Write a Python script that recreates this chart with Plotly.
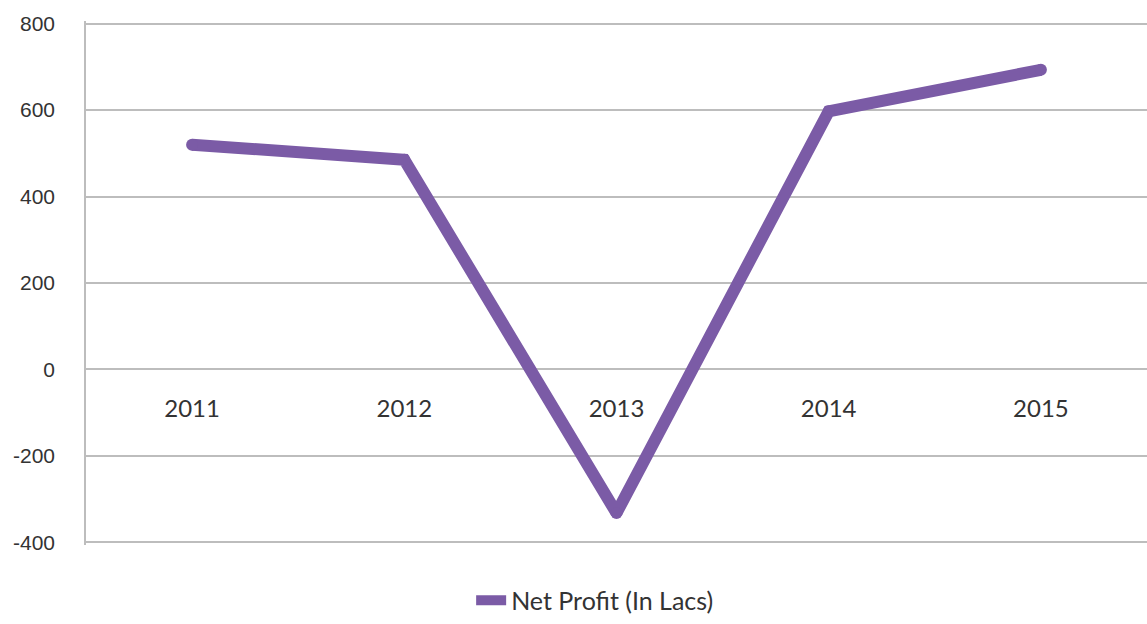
import plotly.graph_objects as go

years = ["2011", "2012", "2013", "2014", "2015"]
net_profit = [520, 485, -332, 597, 693]
series_name = "Net Profit (In Lacs)"
y_ticks = [-400, -200, 0, 200, 400, 600, 800]
y_tick_labels = ["-400", "-200", "0", "200", "400", "600", "800"]

purple = "#7B5BA6"
grid = "#BDBDBD"
y_lo, y_hi = -406, 806

fig = go.Figure()
fig.add_trace(go.Scatter(
    x=years, y=net_profit, name=series_name,
    mode="lines",
    line=dict(color=purple, width=12),
))
fig.add_trace(go.Scatter(
    x=years, y=net_profit, showlegend=False, hoverinfo="skip",
    mode="markers",
    marker=dict(color=purple, size=12, line=dict(width=0)),
))

fig.update_layout(
    template="none",
    width=1147, height=624,
    margin=dict(l=86, r=0, t=21, b=68, pad=0),
    paper_bgcolor="white", plot_bgcolor="white",
    showlegend=True,
    legend=dict(orientation="h", x=0.363, xanchor="left", y=-0.106, yanchor="middle",
                font=dict(family="Lato", size=25, color="#333333")),
    xaxis=dict(
        type="category", anchor="free", position=(0 - y_lo) / (y_hi - y_lo),
        showgrid=False, showline=False, zeroline=False, ticks="",
        ticklabelstandoff=23, automargin=False,
        tickfont=dict(family="Lato", size=24, color="#333333"),
        range=[-0.5, 4.5],
    ),
    yaxis=dict(
        range=[y_lo, y_hi], tickvals=y_ticks, ticktext=y_tick_labels,
        showgrid=True, gridcolor=grid, gridwidth=1.5,
        zeroline=False, showline=True, linecolor=grid, linewidth=1.5,
        ticks="", ticklabelstandoff=25, automargin=False,
        tickfont=dict(family="Liberation Sans", size=21, color="#333333"),
    ),
)

fig.write_html(
    "out.html",
    config={"displayModeBar": False},
    post_script="document.body.style.margin='0';document.body.style.overflow='hidden';"
                "document.documentElement.style.overflow='hidden';",
)
